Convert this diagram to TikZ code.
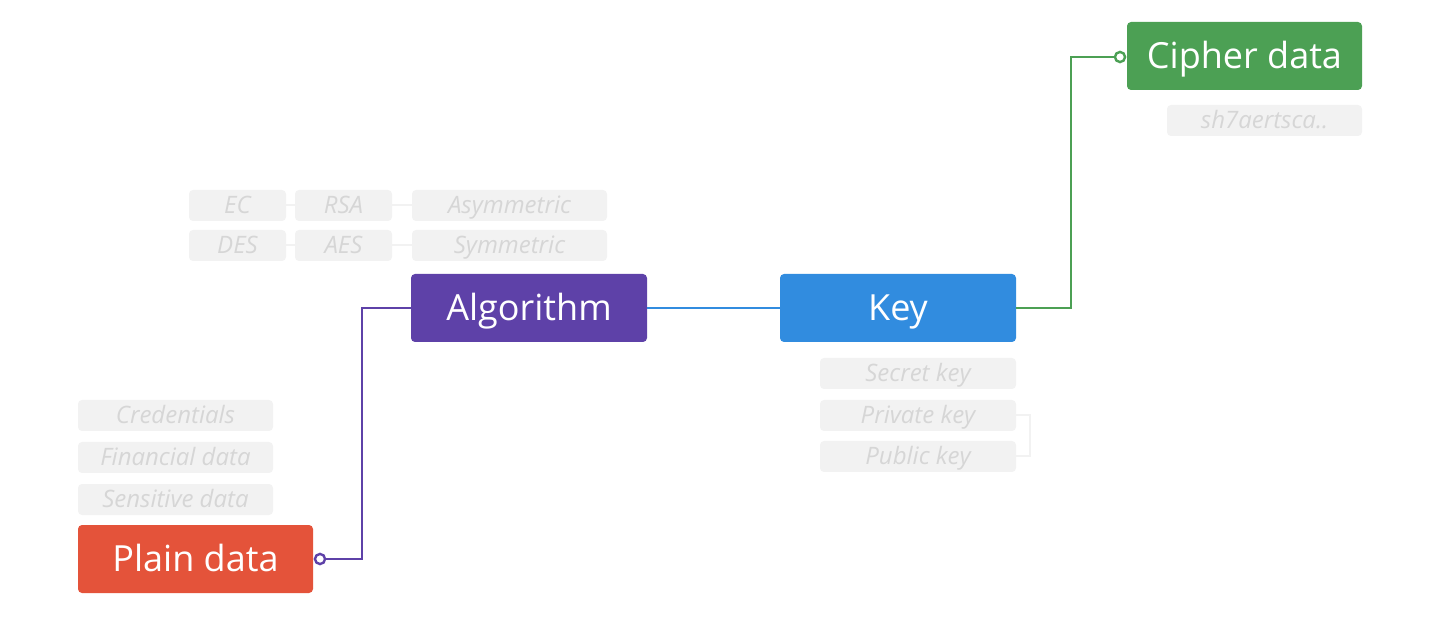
\documentclass[tikz,border=0pt]{standalone}
\usepackage{fontspec}
\setmainfont{Open Sans}
\definecolor{cgreen}{HTML}{4CA054}
\definecolor{cpurple}{HTML}{5E41A8}
\definecolor{cblue}{HTML}{318CDF}
\definecolor{cred}{HTML}{E4533A}
\definecolor{gfill}{HTML}{F2F2F2}
\definecolor{gtext}{HTML}{D6D6D6}
\begin{document}
\begin{tikzpicture}[x=0.75pt,y=-0.75pt,
  mainbox/.style={rounded corners=3pt, text=white, font=\fontsize{27}{30}\selectfont, anchor=center, text height=19pt, text depth=0pt, inner ysep=0pt},
  graybox/.style={fill=gfill, rounded corners=3pt, text=gtext, font=\fontsize{18}{20}\selectfont\itshape, anchor=center, inner sep=0pt, text height=12.6pt, text depth=0pt},
  glink/.style={draw=gfill, line width=1.5pt}
]
\useasboundingbox (0,0) rectangle (1440,620);
% main boxes
\node[mainbox, fill=cgreen, minimum width=176.25pt, minimum height=51pt] (cipher) at (1244.5,56) {Cipher data};
\node[mainbox, fill=cpurple, minimum width=177pt, minimum height=51pt] (algo) at (529,308) {Algorithm};
\node[mainbox, fill=cblue, minimum width=177pt, minimum height=51pt] (key) at (898,308) {Key};
\node[mainbox, fill=cred, minimum width=176.25pt, minimum height=51pt] (plain) at (195.5,559) {Plain data};
% gray boxes
\node[graybox, minimum width=146.25pt, minimum height=23.25pt] (sh) at (1264.5,120.5) {sh7aertsca..};
\node[graybox, minimum width=72.75pt, minimum height=23.25pt] (ec) at (237.5,205.5) {EC};
\node[graybox, minimum width=72.75pt, minimum height=23.25pt] (rsa) at (343.5,205.5) {RSA};
\node[graybox, minimum width=146.25pt, minimum height=23.25pt] (asym) at (509.5,205.5) {Asymmetric};
\node[graybox, minimum width=72.75pt, minimum height=23.25pt] (des) at (237.5,245.5) {DES};
\node[graybox, minimum width=72.75pt, minimum height=23.25pt] (aes) at (343.5,245.5) {AES};
\node[graybox, minimum width=146.25pt, minimum height=23.25pt] (sym) at (509.5,245.5) {Symmetric};
\node[graybox, minimum width=147pt, minimum height=23.25pt] (secret) at (918,373.5) {Secret key};
\node[graybox, minimum width=147pt, minimum height=23.25pt] (private) at (918,415.5) {Private key};
\node[graybox, minimum width=147pt, minimum height=23.25pt] (public) at (918,456.5) {Public key};
\node[graybox, minimum width=146.25pt, minimum height=23.25pt] (cred) at (175.5,415.5) {Credentials};
\node[graybox, minimum width=146.25pt, minimum height=23.25pt] (fin) at (175.5,457.5) {Financial data};
\node[graybox, minimum width=146.25pt, minimum height=23.25pt] (sens) at (175.5,499.5) {Sensitive data};
% gray links
\draw[glink] (ec.east) -- (rsa.west);
\draw[glink] (rsa.east) -- (asym.west);
\draw[glink] (des.east) -- (aes.west);
\draw[glink] (aes.east) -- (sym.west);
\draw[glink] (private.east) -- ++(14,0) |- (public.east);
% main connectors
\coordinate (pc) at (320,559);
\coordinate (cc) at (1120,57);
\draw[cpurple, line width=2pt] (pc) -- (362,559) |- (algo.west);
\draw[cpurple, line width=1.8pt, fill=white] (pc) circle (3.8pt);
\draw[cblue, line width=2pt] (algo.east) -- (key.west);
\draw[cgreen, line width=2pt] (key.east) -- (1071,308) |- (cc);
\draw[cgreen, line width=1.8pt, fill=white] (cc) circle (3.8pt);
\end{tikzpicture}
\end{document}
